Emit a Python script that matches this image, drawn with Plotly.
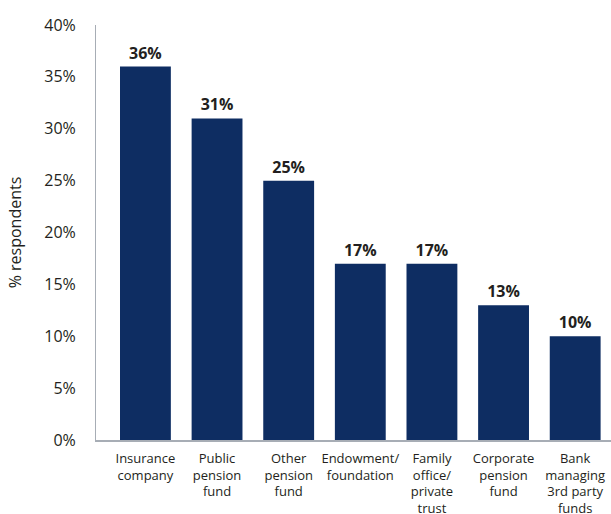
import plotly.graph_objects as go

categories = [
    "Insurance<br>company",
    "Public<br>pension<br>fund",
    "Other<br>pension<br>fund",
    "Endowment/<br>foundation",
    "Family<br>office/<br>private<br>trust",
    "Corporate<br>pension<br>fund",
    "Bank<br>managing<br>3rd party<br>funds",
]
values = [36, 31, 25, 17, 17, 13, 10]
y_ticks = [0, 5, 10, 15, 20, 25, 30, 35, 40]
y_tick_labels = [f"{v}%" for v in y_ticks]

navy = "#0e2d62"
font_family = "Open Sans, Noto Sans, sans-serif"

fig = go.Figure(
    go.Bar(
        x=list(range(len(categories))),
        y=values,
        width=0.71,
        marker=dict(color=navy, line=dict(width=0)),
        text=[f"{v}%" for v in values],
        textposition="outside",
        textfont=dict(family=font_family, size=16, color="#231f20", weight="bold"),
        cliponaxis=False,
    )
)

fig.update_layout(
    width=611,
    height=514,
    margin=dict(l=96, r=0, t=25, b=74),
    paper_bgcolor="white",
    plot_bgcolor="white",
    showlegend=False,
    font=dict(family=font_family, color="#231f20"),
    xaxis=dict(
        range=[-0.69, 6.5],
        tickmode="array",
        tickvals=list(range(len(categories))),
        ticktext=categories,
        tickfont=dict(size=13, color="#231f20"),
        showgrid=False,
        zeroline=False,
        showline=True,
        linecolor="#a7adb5",
        linewidth=2,
        ticks="",
        ticklabelstandoff=5,
        automargin=False,
    ),
    yaxis=dict(
        range=[0, 40],
        tickmode="array",
        tickvals=y_ticks,
        ticktext=y_tick_labels,
        tickfont=dict(size=16, color="#231f20"),
        showgrid=False,
        zeroline=False,
        showline=True,
        linecolor="#a7adb5",
        linewidth=1,
        ticks="",
        ticklabelstandoff=16,
        automargin=False,
        title=dict(text="% respondents", font=dict(size=16, color="#231f20"), standoff=18),
    ),
)

fig.write_html("out.html")
